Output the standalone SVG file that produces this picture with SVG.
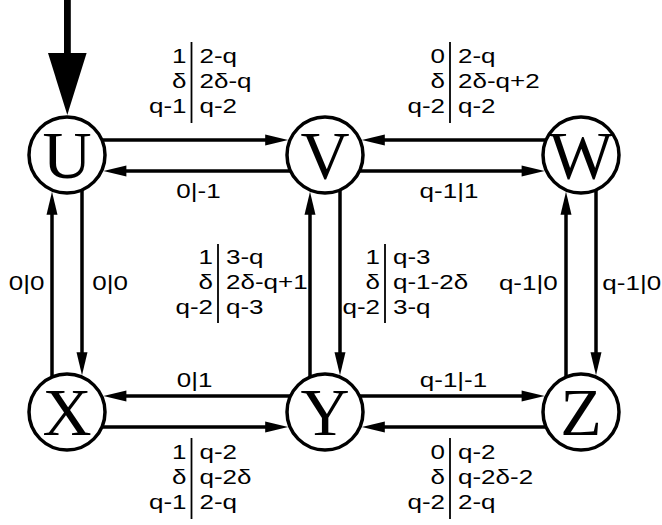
<svg xmlns="http://www.w3.org/2000/svg" width="662" height="525" viewBox="0 0 662 525">
  <style>
    .node circle { fill: #fff; stroke: #000; stroke-width: 3.5; }
    .node text { font-family: "Liberation Serif", "Times New Roman", serif; font-size: 68px; text-anchor: middle; fill: #000; }
    .edge { stroke: #000; stroke-width: 3.5; fill: none; marker-end: url(#ah); }
    .lbl { font-family: "Liberation Sans", Arial, sans-serif; font-size: 20px; fill: #000; }
    .mid { text-anchor: middle; }
    .end { text-anchor: end; }
    .bar { stroke: #000; stroke-width: 1.8; }
  </style>
  <defs>
    <marker id="ah" markerUnits="userSpaceOnUse" orient="auto" overflow="visible" refX="0" refY="0" markerWidth="1" markerHeight="1">
      <path d="M-3,-5.5 L20,0 L-3,5.5 Z" fill="#000"/>
    </marker>
  </defs>

  <rect width="662" height="525" fill="#fff"/>

  <!-- start arrow into U -->
  <g id="start">
    <rect x="64" y="0" width="6.8" height="55" fill="#000"/>
    <polygon points="48,53 86.6,53 67.3,115" fill="#000"/>
  </g>

  <!-- transitions -->
  <g id="connectors">
    <!-- top row -->
    <line class="edge" x1="102" y1="140" x2="268.2" y2="140"/>
    <line class="edge" x1="290.5" y1="171" x2="123.4" y2="171"/>
    <line class="edge" x1="546" y1="140" x2="381.8" y2="140"/>
    <line class="edge" x1="359.5" y1="171" x2="524.6" y2="171"/>
    <!-- bottom row -->
    <line class="edge" x1="290.5" y1="396" x2="123.4" y2="396"/>
    <line class="edge" x1="102" y1="427" x2="268.2" y2="427"/>
    <line class="edge" x1="359.5" y1="396" x2="524.6" y2="396"/>
    <line class="edge" x1="546" y1="427" x2="381.8" y2="427"/>
    <!-- columns -->
    <line class="edge" x1="52" y1="377" x2="52" y2="211.8"/>
    <line class="edge" x1="82" y1="190" x2="82" y2="355.2"/>
    <line class="edge" x1="310" y1="377" x2="310" y2="211.8"/>
    <line class="edge" x1="340" y1="190" x2="340" y2="355.2"/>
    <line class="edge" x1="566" y1="377" x2="566" y2="211.8"/>
    <line class="edge" x1="596" y1="190" x2="596" y2="355.2"/>
  </g>

  <!-- states -->
  <g id="U" class="node"><circle cx="67" cy="155" r="38"/><text x="67" y="178">U</text></g>
  <g id="V" class="node"><circle cx="325" cy="155" r="38"/><text x="325" y="178">V</text></g>
  <g id="W" class="node"><circle cx="581" cy="155" r="38"/><text x="581" y="178">W</text></g>
  <g id="X" class="node"><circle cx="67" cy="412" r="38"/><text x="67" y="435">X</text></g>
  <g id="Y" class="node"><circle cx="325" cy="412" r="38"/><text x="325" y="435">Y</text></g>
  <g id="Z" class="node"><circle cx="581" cy="412" r="38"/><text x="581" y="435">Z</text></g>

  <!-- single-line labels -->
  <g id="labels">
    <text class="lbl mid" transform="matrix(1.3 0 0 1 198.5 198)">0|-1</text>
    <text class="lbl mid" transform="matrix(1.3 0 0 1 449 198)">q-1|1</text>
    <text class="lbl mid" transform="matrix(1.3 0 0 1 194.5 387)">0|1</text>
    <text class="lbl mid" transform="matrix(1.3 0 0 1 453.5 387)">q-1|-1</text>
    <text class="lbl mid" transform="matrix(1.3 0 0 1 26.7 290)">0|0</text>
    <text class="lbl mid" transform="matrix(1.3 0 0 1 110 290)">0|0</text>
    <text class="lbl mid" transform="matrix(1.3 0 0 1 528.3 290)">q-1|0</text>
    <text class="lbl mid" transform="matrix(1.3 0 0 1 631.7 290)">q-1|0</text>
  </g>

  <!-- three-row labels: left column right-aligned, right column left-aligned -->
  <g id="table-UV">
    <line class="bar" x1="191.5" y1="42" x2="191.5" y2="123"/>
    <text class="lbl end" transform="matrix(1.3 0 0 1 186.5 63)">1</text>
    <text class="lbl end" transform="matrix(1.3 0 0 1 186.5 88)">δ</text>
    <text class="lbl end" transform="matrix(1.3 0 0 1 186.5 113)">q-1</text>
    <text class="lbl" transform="matrix(1.3 0 0 1 199.5 63)">2-q</text>
    <text class="lbl" transform="matrix(1.3 0 0 1 199.5 88)">2δ-q</text>
    <text class="lbl" transform="matrix(1.3 0 0 1 199.5 113)">q-2</text>
  </g>
  <g id="table-WV">
    <line class="bar" x1="450" y1="42" x2="450" y2="123"/>
    <text class="lbl end" transform="matrix(1.3 0 0 1 445 63)">0</text>
    <text class="lbl end" transform="matrix(1.3 0 0 1 445 88)">δ</text>
    <text class="lbl end" transform="matrix(1.3 0 0 1 445 113)">q-2</text>
    <text class="lbl" transform="matrix(1.3 0 0 1 458 63)">2-q</text>
    <text class="lbl" transform="matrix(1.3 0 0 1 458 88)">2δ-q+2</text>
    <text class="lbl" transform="matrix(1.3 0 0 1 458 113)">q-2</text>
  </g>
  <g id="table-YV">
    <line class="bar" x1="218" y1="244" x2="218" y2="323"/>
    <text class="lbl end" transform="matrix(1.3 0 0 1 213 264)">1</text>
    <text class="lbl end" transform="matrix(1.3 0 0 1 213 289)">δ</text>
    <text class="lbl end" transform="matrix(1.3 0 0 1 213 314)">q-2</text>
    <text class="lbl" transform="matrix(1.3 0 0 1 226 264)">3-q</text>
    <text class="lbl" transform="matrix(1.3 0 0 1 226 289)">2δ-q+1</text>
    <text class="lbl" transform="matrix(1.3 0 0 1 226 314)">q-3</text>
  </g>
  <g id="table-VY">
    <line class="bar" x1="385" y1="244" x2="385" y2="323"/>
    <text class="lbl end" transform="matrix(1.3 0 0 1 380 264)">1</text>
    <text class="lbl end" transform="matrix(1.3 0 0 1 380 289)">δ</text>
    <text class="lbl end" transform="matrix(1.3 0 0 1 380 314)">q-2</text>
    <text class="lbl" transform="matrix(1.3 0 0 1 393 264)">q-3</text>
    <text class="lbl" transform="matrix(1.3 0 0 1 393 289)">q-1-2δ</text>
    <text class="lbl" transform="matrix(1.3 0 0 1 393 314)">3-q</text>
  </g>
  <g id="table-XY">
    <line class="bar" x1="191.5" y1="438" x2="191.5" y2="519"/>
    <text class="lbl end" transform="matrix(1.3 0 0 1 186.5 459)">1</text>
    <text class="lbl end" transform="matrix(1.3 0 0 1 186.5 484)">δ</text>
    <text class="lbl end" transform="matrix(1.3 0 0 1 186.5 509)">q-1</text>
    <text class="lbl" transform="matrix(1.3 0 0 1 199.5 459)">q-2</text>
    <text class="lbl" transform="matrix(1.3 0 0 1 199.5 484)">q-2δ</text>
    <text class="lbl" transform="matrix(1.3 0 0 1 199.5 509)">2-q</text>
  </g>
  <g id="table-ZY">
    <line class="bar" x1="450" y1="438" x2="450" y2="519"/>
    <text class="lbl end" transform="matrix(1.3 0 0 1 445 459)">0</text>
    <text class="lbl end" transform="matrix(1.3 0 0 1 445 484)">δ</text>
    <text class="lbl end" transform="matrix(1.3 0 0 1 445 509)">q-2</text>
    <text class="lbl" transform="matrix(1.3 0 0 1 458 459)">q-2</text>
    <text class="lbl" transform="matrix(1.3 0 0 1 458 484)">q-2δ-2</text>
    <text class="lbl" transform="matrix(1.3 0 0 1 458 509)">2-q</text>
  </g>
</svg>
